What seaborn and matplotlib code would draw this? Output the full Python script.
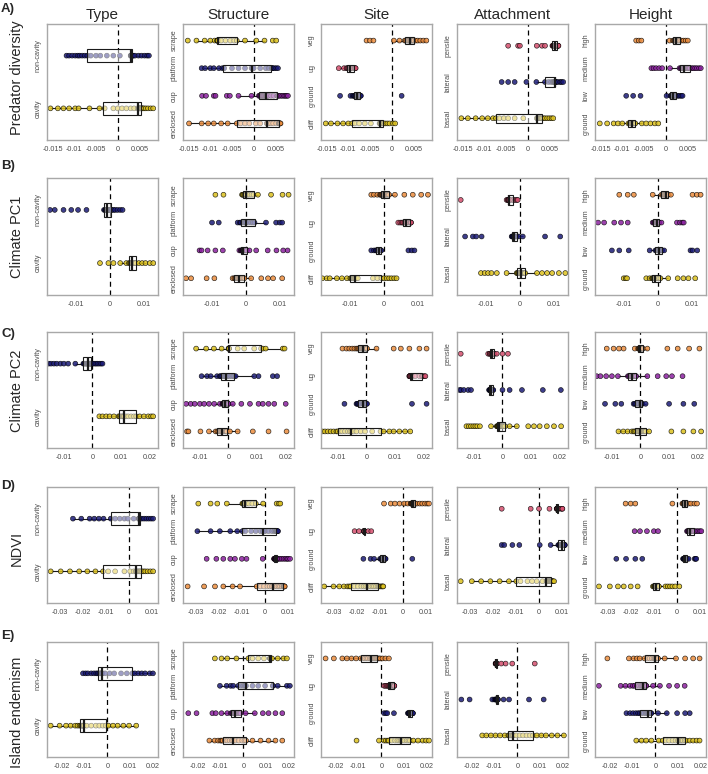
import numpy as np
import pandas as pd
import matplotlib.pyplot as plt
import seaborn as sns

# ---------------- values, one list per group ----------------
# A) Predator diversity
pred_type_cavity = [-0.0155, -0.0138, -0.0125, -0.0112, -0.0098, -0.009, -0.0065, -0.0042, -0.003, -0.001, 0.0, 0.001,
                    0.002, 0.003, 0.0038, 0.0046, 0.0049, 0.0049, 0.005, 0.005, 0.0051, 0.0052, 0.0053, 0.0054, 0.0055,
                    0.0056, 0.0058, 0.0061, 0.0065, 0.007, 0.0076, 0.0082]
pred_type_noncavity = [-0.0118, -0.0112, -0.0105, -0.0098, -0.0092, -0.0088, -0.0082, -0.0076, -0.007, -0.0062, -0.005,
                       -0.004, -0.0025, -0.001, 0.0005, 0.003, 0.003, 0.0031, 0.0031, 0.0032, 0.0032, 0.0033, 0.0033,
                       0.0033, 0.0034, 0.0036, 0.004, 0.0048, 0.0055, 0.0062, 0.0068, 0.0072]
pred_struct_enclosed = [-0.0149, -0.012, -0.0105, -0.0092, -0.0075, -0.006, -0.0039, -0.003, -0.002, -0.001, 0.0005,
                        0.0015, 0.003, 0.0032, 0.0035, 0.004, 0.0045, 0.0052, 0.0058, 0.0058, 0.0059, 0.006, 0.006,
                        0.0061, 0.0062]
pred_struct_cup = [-0.0119, -0.011, -0.0092, -0.0088, -0.0062, -0.0055, -0.0035, -0.0005, 0.0012, 0.0014, 0.0016, 0.0018,
                   0.002, 0.0022, 0.0024, 0.0026, 0.0028, 0.0029, 0.003, 0.0031, 0.0032, 0.0034, 0.004, 0.0046, 0.0054,
                   0.0055, 0.0058, 0.0062, 0.0066, 0.007, 0.0073, 0.0076, 0.0079]
pred_struct_platform = [-0.012, -0.0112, -0.01, -0.0092, -0.008, -0.0072, -0.0068, -0.005, -0.0035, -0.002, -0.0005,
                        -0.0003, 0.0, 0.0015, 0.0028, 0.0035, 0.0042, 0.0043, 0.0044, 0.0048, 0.0052, 0.0056]
pred_struct_scrape = [-0.0152, -0.0132, -0.0113, -0.01, -0.009, -0.0084, -0.0084, -0.0083, -0.0083, -0.0083, -0.0083,
                      -0.0075, -0.0065, -0.0054, -0.0045, -0.0039, -0.002, 0.0006, 0.0025, 0.0044, 0.0052]
pred_site_cliff = [-0.0152, -0.014, -0.0125, -0.0112, -0.01, -0.0091, -0.0085, -0.0075, -0.0062, -0.0048, -0.0028,
                   -0.0027, -0.0026, -0.0024, -0.0022, -0.0019, -0.0015, -0.001, -0.0005, 0.0003, 0.0008]
pred_site_ground = [-0.0119, -0.0095, -0.009, -0.0087, -0.0086, -0.0084, -0.0082, -0.0081, -0.008, -0.0079, -0.0077,
                    -0.0075, -0.0074, -0.0073, -0.0072, -0.0071, 0.0023]
pred_site_ug = [-0.0122, -0.011, -0.0104, -0.0102, -0.01, -0.0098, -0.0095, -0.0093, -0.009, -0.0086, -0.0085, -0.0084,
                -0.0083]
pred_site_veg = [-0.0058, -0.005, -0.0042, 0.0005, 0.0018, 0.003, 0.0033, 0.0036, 0.0038, 0.004, 0.0042, 0.0044, 0.0046,
                 0.0048, 0.005, 0.0051, 0.0055, 0.006, 0.0066, 0.0073, 0.008]
pred_att_basal = [-0.0153, -0.0138, -0.012, -0.0105, -0.0092, -0.008, -0.0073, -0.0065, -0.0055, -0.0045, -0.003, -0.001,
                  0.0021, 0.0023, 0.0025, 0.0027, 0.0029, 0.0031, 0.0033, 0.0036, 0.004, 0.0045, 0.005, 0.0055, 0.0059]
pred_att_lateral = [-0.006, -0.0045, -0.003, -0.0003, 0.002, 0.004, 0.0048, 0.0054, 0.0058, 0.006, 0.0062, 0.0062,
                    0.0063, 0.0063, 0.0064, 0.0064, 0.0066, 0.007, 0.0075, 0.0078, 0.0082]
pred_att_pensile = [-0.0045, -0.0022, -0.0018, 0.0021, 0.0033, 0.004, 0.0057, 0.0058, 0.0059, 0.006, 0.006, 0.0061,
                    0.0062, 0.0063, 0.0063, 0.0064, 0.0065, 0.0066, 0.0068, 0.0068, 0.0069, 0.0069, 0.007, 0.007, 0.0071]
pred_ht_ground = [-0.0152, -0.0135, -0.012, -0.011, -0.01, -0.0086, -0.0083, -0.0081, -0.008, -0.0079, -0.0078, -0.0077,
                  -0.0076, -0.0074, -0.0072, -0.007, -0.0055, -0.0045, -0.0035, -0.0025, -0.0017]
pred_ht_low = [-0.0091, -0.0075, -0.0058, 0.0002, 0.0011, 0.0013, 0.0015, 0.0016, 0.0017, 0.0019, 0.0021, 0.0022, 0.0024,
               0.0028, 0.0032, 0.0036, 0.0039]
pred_ht_medium = [-0.0033, -0.0028, -0.0022, -0.0015, -0.0008, 0.001, 0.0032, 0.0035, 0.0037, 0.0039, 0.004, 0.0042,
                  0.0043, 0.0045, 0.0047, 0.005, 0.0052, 0.0054, 0.0056, 0.006, 0.0064, 0.0068, 0.0072, 0.0077, 0.0081]
pred_ht_high = [-0.0068, -0.0062, -0.0056, 0.0009, 0.0017, 0.0019, 0.0021, 0.0022, 0.0024, 0.0026, 0.0028, 0.003, 0.0032,
                0.0036, 0.0041, 0.0046, 0.0051]

# B) Climate PC1
pc1_type_cavity = [-0.003, -0.0005, 0.001, 0.003, 0.0048, 0.0056, 0.0059, 0.0061, 0.0063, 0.0065, 0.0066, 0.0068, 0.007,
                   0.0072, 0.0074, 0.0076, 0.0085, 0.0095, 0.0105, 0.0118, 0.0128]
pc1_type_noncavity = [-0.0178, -0.0164, -0.0138, -0.0115, -0.0095, -0.007, -0.0018, -0.0015, -0.0013, -0.0012, -0.001,
                      -0.0009, -0.0008, -0.0006, -0.0005, -0.0003, -0.0001, 0.0001, 0.0002, 0.0005, 0.001, 0.0015,
                      0.0022, 0.003, 0.0037]
pc1_struct_enclosed = [-0.0178, -0.0163, -0.0117, -0.0094, -0.004, -0.0035, -0.0032, -0.003, -0.0027, -0.0025, -0.0022,
                       -0.0019, -0.0015, -0.0012, -0.0008, -0.0005, 0.0015, 0.0045, 0.0065, 0.008, 0.0107]
pc1_struct_cup = [-0.0138, -0.0132, -0.0114, -0.0091, -0.0069, -0.002, -0.0016, -0.0014, -0.0012, -0.0011, -0.001,
                  -0.0009, -0.0008, -0.0006, -0.0005, -0.0003, -0.0001, 0.0, 0.0002, 0.001, 0.003, 0.0064, 0.009, 0.011,
                  0.0123]
pc1_struct_platform = [-0.0101, -0.0081, -0.0025, -0.0018, -0.0015, -0.001, -0.0005, -0.0002, 0.0, 0.0008, 0.0015, 0.002,
                       0.0025, 0.0059, 0.0089, 0.01, 0.0107]
pc1_struct_scrape = [-0.0091, -0.0067, -0.0012, -0.001, -0.0008, -0.0005, -0.0003, -0.0001, 0.0, 0.0005, 0.001, 0.0016,
                     0.0022, 0.0035, 0.0074, 0.0108, 0.0126]
pc1_site_cliff = [-0.0183, -0.017, -0.0161, -0.014, -0.0125, -0.011, -0.01, -0.0097, -0.0095, -0.0093, -0.0091, -0.0089,
                  -0.0087, -0.0085, -0.0082, -0.0078, -0.0033, -0.002, -0.0008, 0.0, 0.0008, 0.0015, 0.0022, 0.003,
                  0.0037]
pc1_site_ground = [-0.0038, -0.003, -0.0025, -0.0023, -0.002, -0.0017, -0.0015, -0.0012, -0.001, -0.0008, 0.0072, 0.0082,
                   0.009]
pc1_site_ug = [0.0042, 0.0048, 0.0053, 0.0056, 0.006, 0.0063, 0.0066, 0.0069, 0.0073, 0.0078, 0.0078, 0.0079, 0.008]
pc1_site_veg = [-0.0038, -0.003, -0.002, -0.0012, -0.001, -0.0008, -0.0006, -0.0004, -0.0002, -0.0001, 0.0, 0.0002,
                0.0005, 0.0008, 0.0012, 0.0015, 0.0032, 0.006, 0.0085, 0.011, 0.013]
pc1_att_basal = [-0.0116, -0.0105, -0.0095, -0.0085, -0.0069, -0.004, -0.001, -0.0008, -0.0006, -0.0004, -0.0002, 0.0,
                 0.0002, 0.0004, 0.0006, 0.0009, 0.0011, 0.0013, 0.0015, 0.005, 0.0065, 0.008, 0.0095, 0.0115, 0.0134]
pc1_att_lateral = [-0.0163, -0.014, -0.013, -0.0114, -0.0025, -0.0023, -0.0021, -0.002, -0.0018, -0.0016, -0.0014,
                   -0.0012, -0.001, -0.0005, 0.0008, 0.0074, 0.0119]
pc1_att_pensile = [-0.0176, -0.004, -0.0037, -0.0035, -0.0034, -0.0034, -0.0033, -0.003, -0.0025, -0.002, -0.0015,
                   -0.001, -0.0007]
pc1_ht_ground = [-0.0102, -0.0096, -0.0092, -0.0035, -0.0025, -0.0018, -0.0016, -0.0014, -0.0013, -0.0011, -0.001,
                 -0.0008, -0.0005, -0.0002, 0.0003, 0.0007, 0.003, 0.0058, 0.0075, 0.009, 0.011]
pc1_ht_low = [-0.0137, -0.0115, -0.0087, -0.0025, -0.0008, -0.0005, -0.0002, 0.0, 0.0002, 0.0005, 0.0007, 0.001, 0.0012,
              0.0018, 0.0096, 0.0102, 0.0116]
pc1_ht_medium = [-0.0178, -0.016, -0.013, -0.011, -0.009, -0.0016, -0.0013, -0.001, -0.0008, -0.0005, -0.0003, -0.0002,
                 0.0, 0.0001, 0.0003, 0.0004, 0.001, 0.0056, 0.0065, 0.0072, 0.0076]
pc1_ht_high = [-0.0115, -0.009, -0.0072, -0.0016, 0.001, 0.0014, 0.0017, 0.002, 0.0022, 0.0024, 0.0026, 0.0028, 0.003,
               0.0038, 0.0102, 0.0115, 0.0126]

# C) Climate PC2
pc2_type_cavity = [0.0024, 0.0035, 0.0048, 0.006, 0.0075, 0.0091, 0.0095, 0.01, 0.0104, 0.0107, 0.011, 0.0118, 0.0125,
                   0.0135, 0.0145, 0.0153, 0.0165, 0.018, 0.0195, 0.0205, 0.0212]
pc2_type_noncavity = [-0.0153, -0.0145, -0.0135, -0.0125, -0.0112, -0.01, -0.0085, -0.006, -0.0032, -0.0029, -0.0026,
                      -0.0023, -0.0021, -0.0019, -0.0017, -0.0016, -0.0015, -0.0014, -0.0012, -0.001, -0.0009, -0.0007,
                      -0.0006, -0.0005, -0.0004, -0.0002, 0.0002, 0.0008, 0.0013, 0.0018, 0.0024, 0.003, 0.0035]
pc2_struct_enclosed = [-0.0145, -0.014, -0.0098, -0.0068, -0.0045, -0.0039, -0.0035, -0.003, -0.0027, -0.0024, -0.0021,
                       -0.0018, -0.0014, -0.001, -0.0008, -0.0006, 0.0005, 0.0032, 0.0085, 0.014, 0.0203]
pc2_struct_cup = [-0.0148, -0.0132, -0.0118, -0.01, -0.0085, -0.0068, -0.005, -0.003, -0.0021, -0.0019, -0.0018, -0.0017,
                  -0.0016, -0.0015, -0.0014, -0.0013, -0.0012, -0.0011, -0.001, -0.0008, -0.0006, -0.0004, -0.0002,
                  -0.0001, 0.0, 0.0015, 0.0045, 0.0075, 0.0105, 0.012, 0.014, 0.016, 0.02]
pc2_struct_platform = [-0.0094, -0.0075, -0.0062, -0.004, -0.003, -0.0027, -0.0022, -0.0017, -0.0014, -0.0011, -0.0009,
                       -0.0004, 0.0003, 0.001, 0.0016, 0.002, 0.0025, 0.009, 0.0105, 0.0155, 0.017]
pc2_struct_scrape = [-0.0113, -0.0078, -0.0051, -0.0024, 0.0, 0.0001, 0.0001, 0.0002, 0.0002, 0.0032, 0.0055, 0.009,
                     0.0114, 0.012, 0.013, 0.019, 0.0196]
pc2_site_cliff = [-0.0154, -0.0145, -0.0135, -0.0125, -0.0115, -0.0105, -0.01, -0.0092, -0.0085, -0.0075, -0.0065,
                  -0.0058, -0.0053, -0.0045, -0.0035, -0.002, -0.0005, 0.002, 0.0049, 0.006, 0.008, 0.0095, 0.0115,
                  0.0135, 0.0153]
pc2_site_ground = [-0.0077, -0.0035, -0.0032, -0.003, -0.0026, -0.0022, -0.0012, -0.0008, -0.0004, 0.0, 0.0002, 0.0159,
                   0.021]
pc2_site_ug = [0.015, 0.015, 0.0151, 0.0151, 0.0153, 0.0156, 0.0159, 0.017, 0.0185, 0.0194, 0.0198, 0.0203, 0.0206]
pc2_site_veg = [-0.0084, -0.007, -0.006, -0.005, -0.0042, -0.0035, -0.003, -0.0026, -0.0022, -0.0019, -0.0016, -0.0014,
                -0.0012, -0.001, -0.0008, -0.0005, -0.0002, 0.0, 0.0002, 0.0035, 0.0095, 0.012, 0.015, 0.0185, 0.021]
pc2_att_basal = [-0.0126, -0.0118, -0.011, -0.0102, -0.0095, -0.0088, -0.0079, -0.004, -0.002, -0.0018, -0.0017, -0.0016,
                 -0.0015, -0.0014, -0.0013, -0.0012, -0.0012, -0.001, -0.0008, -0.0006, -0.0004, -0.0002, 0.0002,
                 0.0005, 0.0009, 0.0025, 0.005, 0.009, 0.011, 0.013, 0.0155, 0.018, 0.0205]
pc2_att_lateral = [-0.015, -0.0145, -0.0135, -0.012, -0.011, -0.0047, -0.0045, -0.0044, -0.0042, -0.0041, -0.004,
                   -0.0039, -0.0037, -0.0035, -0.0034, -0.0032, 0.0, 0.0025, 0.0068, 0.0141, 0.0204]
pc2_att_pensile = [-0.0146, -0.005, -0.0045, -0.0044, -0.004, -0.0038, -0.0035, -0.0033, -0.003, -0.0028, -0.002, 0.0,
                   0.0019]
pc2_ht_ground = [-0.0077, -0.006, -0.0045, -0.003, -0.0024, -0.002, -0.0015, -0.001, -0.0006, -0.0003, 0.0, 0.0004,
                 0.0008, 0.0012, 0.0015, 0.0018, 0.003, 0.0108, 0.015, 0.0185, 0.0212]
pc2_ht_low = [-0.0124, -0.0088, -0.0067, -0.0024, -0.002, -0.0015, -0.001, -0.0005, 0.0, 0.0002, 0.0004, 0.0005, 0.0006,
              0.0018, 0.01, 0.015, 0.0188]
pc2_ht_medium = [-0.0153, -0.014, -0.012, -0.01, -0.0079, -0.0044, -0.004, -0.0036, -0.0033, -0.0031, -0.0029, -0.0026,
                 -0.0022, -0.0019, -0.0017, -0.0015, 0.0024, 0.006, 0.009, 0.011, 0.0147]
pc2_ht_high = [-0.0118, -0.0094, -0.0075, -0.0059, -0.002, -0.0008, -0.0006, -0.0004, -0.0002, -0.0001, 0.0, 0.0002,
               0.0004, 0.0006, 0.0007, 0.0008, 0.0024, 0.0094, 0.013, 0.017, 0.0206]

# D) NDVI
ndvi_type_cavity = [-0.0338, -0.0295, -0.0255, -0.0215, -0.018, -0.0145, -0.0112, -0.009, -0.006, -0.002, 0.0005, 0.002,
                    0.0029, 0.0032, 0.0036, 0.004, 0.0044, 0.0047, 0.005, 0.0055, 0.0062, 0.007, 0.008, 0.0092, 0.0104]
ndvi_type_noncavity = [-0.0242, -0.0206, -0.017, -0.015, -0.013, -0.011, -0.0079, -0.006, -0.004, -0.002, -0.0005, 0.002,
                       0.0042, 0.0042, 0.0043, 0.0043, 0.0044, 0.0045, 0.0046, 0.0055, 0.0065, 0.0075, 0.0085, 0.0095,
                       0.0104]
ndvi_struct_enclosed = [-0.0334, -0.0263, -0.0216, -0.018, -0.014, -0.0108, -0.0036, -0.002, -0.0005, 0.001, 0.002,
                        0.003, 0.0036, 0.0042, 0.005, 0.0058, 0.0065, 0.0072, 0.0079, 0.008, 0.0081, 0.0082, 0.0083,
                        0.0084, 0.0085]
ndvi_struct_cup = [-0.0252, -0.021, -0.018, -0.015, -0.013, -0.01, -0.008, -0.001, 0.0039, 0.004, 0.0041, 0.0042, 0.0043,
                   0.0044, 0.0045, 0.0046, 0.0047, 0.0048, 0.0049, 0.005, 0.005, 0.0051, 0.0052, 0.0052, 0.0053, 0.0058,
                   0.0065, 0.0072, 0.008, 0.0088, 0.0095, 0.01, 0.0108]
ndvi_struct_platform = [-0.0292, -0.0235, -0.0195, -0.015, -0.012, -0.0098, -0.0085, -0.006, -0.004, -0.002, -0.001,
                        0.0, 0.0015, 0.003, 0.004, 0.0047, 0.0048, 0.005, 0.0052, 0.0054, 0.0056]
ndvi_struct_scrape = [-0.0288, -0.0235, -0.0206, -0.0165, -0.0098, -0.0095, -0.0092, -0.0089, -0.0086, -0.008, -0.007,
                      -0.0055, -0.004, -0.0008, 0.005, 0.006, 0.0066]
ndvi_site_cliff = [-0.034, -0.03, -0.0275, -0.0255, -0.024, -0.0232, -0.0226, -0.021, -0.0195, -0.018, -0.017, -0.0162,
                   -0.0154, -0.0148, -0.014, -0.0132, -0.0125, -0.0117, -0.011, -0.0105, -0.01, -0.0095, -0.009,
                   -0.0088, -0.0085]
ndvi_site_ground = [-0.0171, -0.014, -0.0125, -0.0099, -0.0095, -0.0091, -0.0088, -0.0085, -0.0081, -0.0078, -0.0077,
                    -0.0075, 0.004]
ndvi_site_ug = [-0.0209, -0.019, -0.017, -0.0169, -0.0168, -0.0167, -0.0166, -0.015, -0.0137]
ndvi_site_veg = [-0.0082, -0.0053, -0.0035, -0.0015, 0.0005, 0.002, 0.0033, 0.0035, 0.0037, 0.0038, 0.004, 0.0041,
                 0.0042, 0.0044, 0.0045, 0.0047, 0.0049, 0.005, 0.0052, 0.006, 0.0072, 0.0083, 0.0095, 0.0105, 0.0112]
ndvi_att_basal = [-0.0338, -0.029, -0.025, -0.021, -0.017, -0.013, -0.0098, -0.008, -0.005, -0.003, -0.001, 0.0015,
                  0.0032, 0.0035, 0.0038, 0.0041, 0.0044, 0.0047, 0.005, 0.0052, 0.0054, 0.0056, 0.0058, 0.006, 0.0065]
ndvi_att_lateral = [-0.0161, -0.015, -0.0115, -0.0085, 0.0003, 0.005, 0.0083, 0.0086, 0.0089, 0.0092, 0.0095, 0.0098,
                    0.01, 0.0101, 0.0102, 0.0103, 0.0104, 0.0106, 0.0108, 0.0109, 0.0109, 0.011, 0.011, 0.0111, 0.0111]
ndvi_att_pensile = [-0.0161, -0.0036, 0.0, 0.0045, 0.0076, 0.0077, 0.0078, 0.0078, 0.0079, 0.0079, 0.008, 0.008, 0.0081,
                    0.0085, 0.0095, 0.01, 0.0101]
ndvi_ht_ground = [-0.0337, -0.029, -0.0255, -0.023, -0.02, -0.017, -0.0104, -0.01, -0.0098, -0.0096, -0.0095, -0.0093,
                  -0.0092, -0.009, -0.0088, -0.0086, -0.0083, -0.008, -0.0078, -0.005, -0.004, -0.003, -0.002, -0.0008,
                  0.001]
ndvi_ht_low = [-0.0262, -0.022, -0.018, -0.015, 0.0026, 0.0028, 0.003, 0.0031, 0.0033, 0.0035, 0.0038, 0.004, 0.0043,
               0.005, 0.0076, 0.008, 0.0083]
ndvi_ht_medium = [-0.0183, -0.016, -0.013, -0.01, -0.0082, 0.0043, 0.0046, 0.0049, 0.0051, 0.0053, 0.0055, 0.0058,
                  0.0061, 0.0064, 0.0068, 0.0072, 0.0078, 0.0085, 0.0092, 0.0099, 0.0105]
ndvi_ht_high = [-0.0222, -0.02, -0.018, -0.002, 0.0023, 0.0026, 0.0029, 0.0031, 0.0033, 0.0035, 0.0038, 0.004, 0.0043,
                0.005, 0.006, 0.0075, 0.0086]

# E) Island endemism
end_type_cavity = [-0.0247, -0.0208, -0.018, -0.016, -0.014, -0.013, -0.0121, -0.0115, -0.0112, -0.0109, -0.0106,
                   -0.0104, -0.0102, -0.009, -0.007, -0.005, -0.0035, -0.002, -0.0007, 0.0005, 0.0025, 0.0045, 0.007,
                   0.0095, 0.0126]
end_type_noncavity = [-0.0106, -0.0095, -0.0085, -0.007, -0.0058, -0.0048, -0.0041, -0.0035, -0.003, -0.0027, -0.0025,
                      -0.0023, -0.0022, -0.001, 0.001, 0.003, 0.006, 0.0085, 0.0109, 0.012, 0.0135, 0.015, 0.0165,
                      0.0185, 0.0199]
end_struct_enclosed = [-0.0148, -0.0125, -0.011, -0.01, -0.0095, -0.009, -0.008, -0.007, -0.006, -0.005, -0.0044,
                       -0.0035, -0.002, -0.0005, 0.0005, 0.0012, 0.004, 0.0075, 0.011, 0.014, 0.017]
end_struct_cup = [-0.024, -0.0204, -0.0135, -0.012, -0.0095, -0.007, -0.0054, -0.005, -0.0046, -0.0043, -0.004, -0.0038,
                  -0.0036, -0.0032, -0.0028, -0.0024, -0.0019, -0.0015, -0.0012, 0.001, 0.005, 0.0085, 0.011, 0.014,
                  0.017]
end_struct_platform = [-0.0102, -0.0073, -0.0055, -0.0044, -0.0022, -0.001, 0.0, 0.0007, 0.0012, 0.004, 0.0065, 0.0095,
                       0.0128, 0.013, 0.015, 0.019, 0.0203]
end_struct_scrape = [-0.0124, -0.0095, -0.007, -0.003, 0.0022, 0.004, 0.0065, 0.009, 0.0116, 0.0117, 0.0117, 0.0118,
                     0.0119, 0.0125, 0.015, 0.0175, 0.019]
end_site_cliff = [-0.0108, -0.001, 0.0012, 0.002, 0.0028, 0.0033, 0.0045, 0.006, 0.007, 0.0078, 0.0084, 0.009, 0.01,
                  0.011, 0.0118, 0.0125, 0.014, 0.016, 0.018, 0.0195, 0.0208]
end_site_ground = [0.0012, 0.002, 0.0026, 0.0055, 0.0116, 0.0118, 0.012, 0.0122, 0.0125, 0.0127, 0.0129, 0.0132, 0.0135,
                   0.0135, 0.0136, 0.0137, 0.0138]
end_site_ug = [0.0012, 0.0018, 0.0024, 0.0029, 0.0033, 0.0037, 0.004, 0.0044, 0.005, 0.0055, 0.0055, 0.0056, 0.0057]
end_site_veg = [-0.0243, -0.0207, -0.017, -0.015, -0.013, -0.011, -0.009, -0.008, -0.0072, -0.0065, -0.0058, -0.005,
                -0.0044, -0.004, -0.0036, -0.0032, -0.0028, -0.0024, -0.002, -0.0015, -0.001, -0.0005, 0.0005, 0.0018,
                0.0033]
end_att_basal = [-0.0153, -0.0135, -0.0115, -0.0095, -0.0075, -0.0055, -0.0039, -0.0035, -0.003, -0.0026, -0.0022,
                 -0.0019, -0.0017, -0.0005, 0.001, 0.0025, 0.004, 0.0055, 0.0068, 0.0085, 0.0105, 0.0125, 0.015, 0.0175,
                 0.0203]
end_att_lateral = [-0.0244, -0.0208, -0.0109, -0.01, -0.0095, -0.0093, -0.0092, -0.0091, -0.009, -0.0089, -0.0087,
                   -0.0086, -0.0084, -0.006, -0.0036, 0.0051, 0.0115]
end_att_pensile = [-0.0095, -0.0094, -0.0094, -0.0093, -0.0093, -0.0092, -0.0092, -0.0092, -0.0092, -0.0091, -0.0091,
                   -0.009, -0.009, -0.007, -0.0051, -0.0022, 0.0076]
end_ht_ground = [-0.0083, -0.006, -0.004, -0.0017, 0.0015, 0.0033, 0.0045, 0.006, 0.0075, 0.0088, 0.0099, 0.0105, 0.011,
                 0.0115, 0.012, 0.0128, 0.0135, 0.015, 0.0165, 0.018, 0.0193]
end_ht_low = [-0.0126, -0.011, -0.0097, -0.0085, -0.0075, -0.0068, -0.006, -0.005, -0.0042, -0.0036, -0.0032, -0.0028,
              -0.0025, -0.0022, -0.0019, -0.0017, 0.0012, 0.005, 0.0095, 0.013, 0.015]
end_ht_medium = [-0.0246, -0.0151, -0.013, -0.011, -0.0098, -0.009, -0.008, -0.007, -0.0063, -0.0058, -0.0054, -0.005,
                 -0.0046, -0.0043, -0.0041, -0.0039, -0.001, 0.002, 0.006, 0.0095, 0.0128]
end_ht_high = [-0.0209, -0.0115, -0.0095, -0.008, -0.0068, -0.0047, -0.0035, -0.0025, -0.0015, -0.0008, -0.0003, 0.0,
               0.0003, 0.0006, 0.0009, 0.0012, 0.0041, 0.009, 0.013, 0.0165, 0.0193]

row_names = ['Predator diversity', 'Climate PC1', 'Climate PC2', 'NDVI', 'Island endemism']
row_letters = ['A)', 'B)', 'C)', 'D)', 'E)']
col_names = ['Type', 'Structure', 'Site', 'Attachment', 'Height']
levels = {
    'Type': ['cavity', 'non-cavity'],
    'Structure': ['enclosed', 'cup', 'platform', 'scrape'],
    'Site': ['cliff', 'ground', 'ug', 'veg'],
    'Attachment': ['basal', 'lateral', 'pensile'],
    'Height': ['ground', 'low', 'medium', 'high'],
}
row_ticks = [[-0.015, -0.01, -0.005, 0, 0.005],
             [-0.01, 0, 0.01],
             [-0.01, 0, 0.01, 0.02],
             [-0.03, -0.02, -0.01, 0, 0.01],
             [-0.02, -0.01, 0, 0.01, 0.02]]
row_xlim = [(-0.0163, 0.0093), (-0.0187, 0.0142), (-0.0159, 0.0229), (-0.0354, 0.0125), (-0.0263, 0.0221)]

# table of groups, built from the lists above (bottom-to-top order)
panel_values = [
    [[pred_type_cavity, pred_type_noncavity],
     [pred_struct_enclosed, pred_struct_cup, pred_struct_platform, pred_struct_scrape],
     [pred_site_cliff, pred_site_ground, pred_site_ug, pred_site_veg],
     [pred_att_basal, pred_att_lateral, pred_att_pensile],
     [pred_ht_ground, pred_ht_low, pred_ht_medium, pred_ht_high]],
    [[pc1_type_cavity, pc1_type_noncavity],
     [pc1_struct_enclosed, pc1_struct_cup, pc1_struct_platform, pc1_struct_scrape],
     [pc1_site_cliff, pc1_site_ground, pc1_site_ug, pc1_site_veg],
     [pc1_att_basal, pc1_att_lateral, pc1_att_pensile],
     [pc1_ht_ground, pc1_ht_low, pc1_ht_medium, pc1_ht_high]],
    [[pc2_type_cavity, pc2_type_noncavity],
     [pc2_struct_enclosed, pc2_struct_cup, pc2_struct_platform, pc2_struct_scrape],
     [pc2_site_cliff, pc2_site_ground, pc2_site_ug, pc2_site_veg],
     [pc2_att_basal, pc2_att_lateral, pc2_att_pensile],
     [pc2_ht_ground, pc2_ht_low, pc2_ht_medium, pc2_ht_high]],
    [[ndvi_type_cavity, ndvi_type_noncavity],
     [ndvi_struct_enclosed, ndvi_struct_cup, ndvi_struct_platform, ndvi_struct_scrape],
     [ndvi_site_cliff, ndvi_site_ground, ndvi_site_ug, ndvi_site_veg],
     [ndvi_att_basal, ndvi_att_lateral, ndvi_att_pensile],
     [ndvi_ht_ground, ndvi_ht_low, ndvi_ht_medium, ndvi_ht_high]],
    [[end_type_cavity, end_type_noncavity],
     [end_struct_enclosed, end_struct_cup, end_struct_platform, end_struct_scrape],
     [end_site_cliff, end_site_ground, end_site_ug, end_site_veg],
     [end_att_basal, end_att_lateral, end_att_pensile],
     [end_ht_ground, end_ht_low, end_ht_medium, end_ht_high]],
]

# colours
gold = '#dcc11e'
navy = '#1c1c78'
purple = '#8c22a0'
orange = '#ec8d3e'
pink = '#d5506f'
palettes = {
    'Type': [gold, navy],
    'Structure': [orange, purple, navy, gold],
    'Site': [gold, navy, pink, orange],
    'Attachment': [gold, navy, pink],
    'Height': [gold, navy, purple, orange],
}

sns.set_style('white')
plt.rcParams['font.family'] = ['Liberation Sans', 'DejaVu Sans']

W, H = 708, 774
fig = plt.figure(figsize=(W / 100, H / 100), dpi=100)

col_px = [(47, 158), (183, 294), (321, 432), (457, 568), (595, 706)]
row_px = [(24, 140), (178, 295), (332, 448), (487, 603), (642, 757)]
letter_y = [9, 166, 334, 486, 636]
label_y = [78, 237, 391, 548, 712]
grey = '#4d4d4d'

for r in range(5):
    for c, col in enumerate(col_names):
        (x0, x1), (y0, y1) = col_px[c], row_px[r]
        ax = fig.add_axes([x0 / W, 1 - y1 / H, (x1 - x0) / W, (y1 - y0) / H])
        lv = levels[col]
        vals = panel_values[r][c]
        df = pd.DataFrame({'value': np.concatenate(vals),
                           'group': np.repeat(lv, [len(v) for v in vals])})
        order = lv[::-1]
        pal = dict(zip(lv, palettes[col]))

        ax.axvline(0, color='black', lw=0.9, ls=(0, (4, 3)), zorder=1)
        sns.stripplot(data=df, x='value', y='group', order=order, hue='group', hue_order=lv,
                      palette=pal, jitter=False, size=3.5, edgecolor='black', linewidth=0.45,
                      alpha=0.85, legend=False, ax=ax, zorder=2)
        sns.boxplot(data=df, x='value', y='group', order=order, color='white', linecolor='#1a1a1a',
                    linewidth=0.8, width=0.25, showfliers=False, showcaps=False, ax=ax,
                    medianprops=dict(linewidth=1.6, zorder=4),
                    whiskerprops=dict(zorder=1.5), boxprops=dict(zorder=3))
        for p in ax.patches:
            p.set_facecolor((1, 1, 1, 0.5))
            p.set_zorder(3)

        ax.set_xlim(*row_xlim[r])
        ax.set_ylim(len(lv) - 1 + 0.6, -0.6)
        ax.set_xticks(row_ticks[r])
        ax.set_xticklabels(['%g' % t for t in row_ticks[r]])
        ax.set_yticks(range(len(order)))
        ax.set_yticklabels(order, rotation=90, va='center')
        ax.set_xlabel('')
        ax.set_ylabel('')
        ax.tick_params(length=2.5, width=0.6, color=grey, labelsize=5.2, labelcolor=grey, pad=1.5)
        for s in ax.spines.values():
            s.set_color('#a8a8a8')
            s.set_linewidth(1.0)

        if r == 0:
            fig.text((x0 + x1) / 2 / W, 1 - 15 / H, col, ha='center', va='center', fontsize=11)
    fig.text(17 / W, 1 - label_y[r] / H, row_names[r], rotation=90,
             ha='center', va='center', fontsize=10.5)
    fig.text(1 / W, 1 - letter_y[r] / H, row_letters[r], ha='left', va='center',
             fontsize=9.5, fontweight='bold')

fig.savefig('out.png', dpi=100)
